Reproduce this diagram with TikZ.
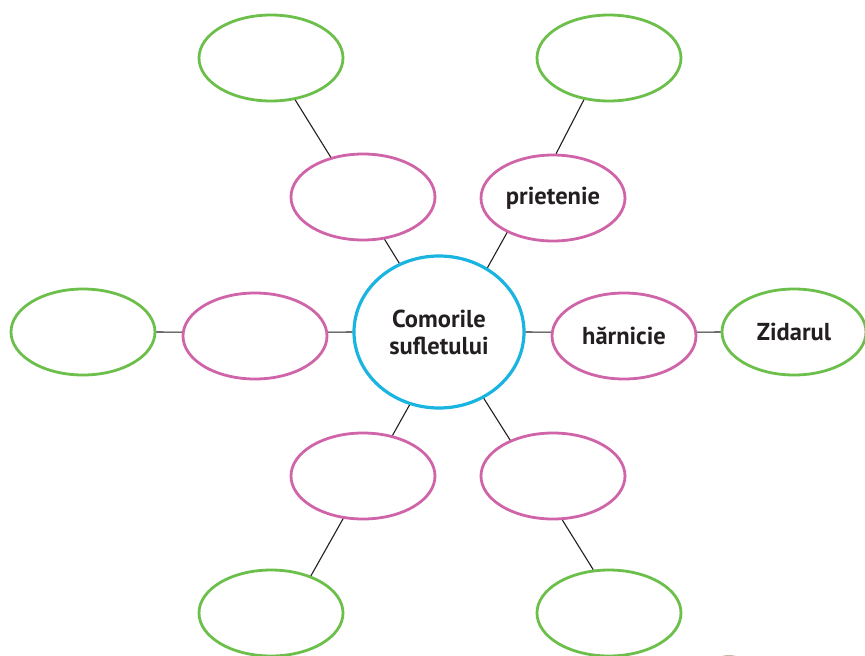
\documentclass[tikz,border=0pt]{standalone}
\usepackage{fontspec}
\setmainfont{PT Sans}
\usetikzlibrary{shapes.geometric}
\definecolor{cyanc}{HTML}{1AB4E0}
\definecolor{pinkc}{HTML}{D064A8}
\definecolor{greenc}{HTML}{6CBF4B}
\definecolor{txt}{HTML}{231F20}
\definecolor{arcc}{HTML}{A89070}
\begin{document}
\begin{tikzpicture}[x=1pt,y=-1pt,
  ell/.style={ellipse, minimum width=144pt, minimum height=86pt, inner sep=0pt, fill=white, line width=2.8pt, font=\bfseries\fontsize{24.5}{28}\selectfont, text=txt, align=center},
  pinkell/.style={ell, draw=pinkc},
  greenell/.style={ell, draw=greenc},
  hub/.style={ellipse, minimum width=170pt, minimum height=152pt, inner sep=0pt, draw=cyanc, line width=3.2pt, fill=white, font=\bfseries\fontsize{24.5}{27}\selectfont, text=txt, align=center},
  link/.style={line width=1.1pt, draw=txt}]
\useasboundingbox (0,0) rectangle (865,656);
\node[hub] (c) at (439,332) {Comorile\\sufletului};
\node[pinkell] (pul) at (363,197) {};
\node[pinkell] (pur) at (553,198) {prietenie};
\node[pinkell] (pl) at (255,336) {};
\node[pinkell] (pr) at (624,336) {hărnicie};
\node[pinkell] (pll) at (363,476) {};
\node[pinkell] (plr) at (553,476) {};
\node[greenell] (gul) at (271,58) {};
\node[greenell] (gur) at (609,58) {};
\node[greenell] (gl) at (83,332) {};
\node[greenell] (gr) at (794,332) {Zidarul};
\node[greenell] (gll) at (271,613) {};
\node[greenell] (glr) at (609,613) {};
\draw[link] (c.120) -- (pul.-63);
\draw[link] (c.53) -- (pur.-143);
\draw[link] (c.west) -- (pl.3);
\draw[link] (c.east) -- (pr.177);
\draw[link] (c.-112) -- (pll.54);
\draw[link] (c.-56) -- (plr.140);
\draw[link] (pul.129) -- (gul.-60);
\draw[link] (pur.86) -- (gur.-121);
\draw[link] (pl.177) -- (gl.east);
\draw[link] (pr.3) -- (gr.west);
\draw[link] (pll.-115) -- (gll.43);
\draw[link] (plr.-78) -- (glr.110);
\draw[arcc, line width=1.5pt] (729,686) circle (30);
\end{tikzpicture}
\end{document}
